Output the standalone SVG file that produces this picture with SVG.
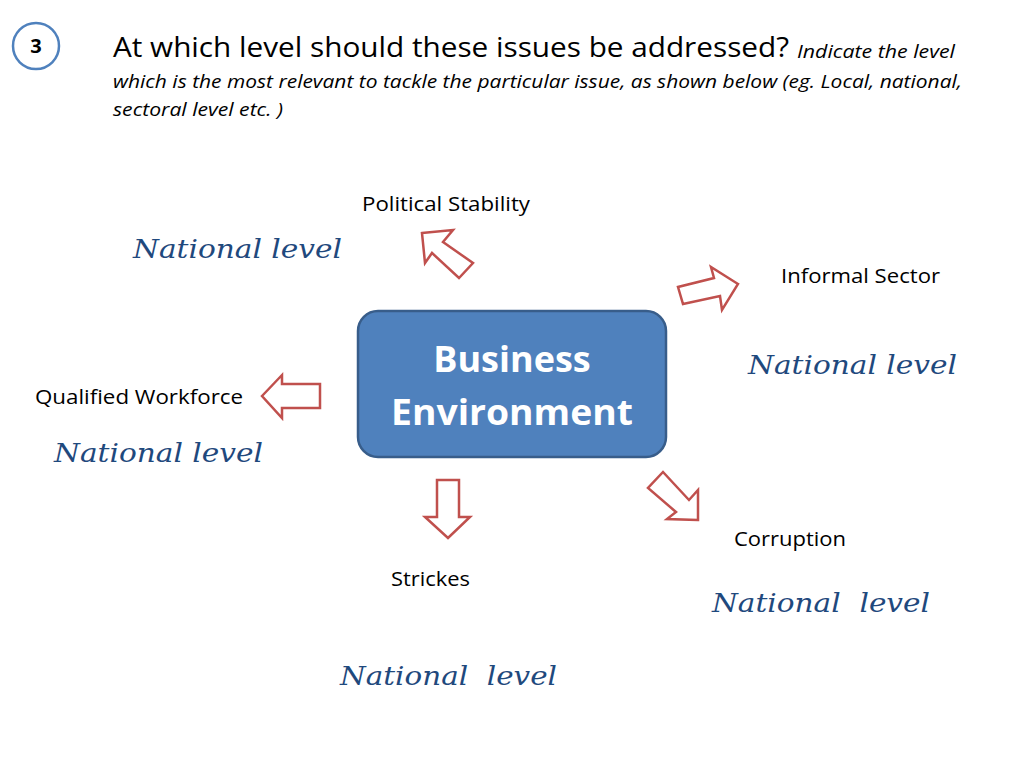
<svg xmlns="http://www.w3.org/2000/svg" width="1024" height="768" viewBox="0 0 1024 768">
<style>
.t{font-family:"Open Sans","Liberation Sans",sans-serif;fill:#000}
.lbl{font-size:20px}
.nl{font-family:"DejaVu Serif","Liberation Serif",serif;font-style:italic;font-size:26px;fill:#1f497d}
.arr{fill:#fff;stroke:#c0504d;stroke-width:2.5;stroke-linejoin:miter}
</style>
<rect width="1024" height="768" fill="#fff"/>
<g id="badge">
<circle cx="36" cy="46" r="23" fill="#fff" stroke="#4f81bd" stroke-width="2.5"/>
<text x="36" y="53" text-anchor="middle" class="t" font-size="20" font-weight="bold">3</text>
</g>
<g id="title">
<text x="113" y="57" class="t" font-size="28" textLength="676" lengthAdjust="spacingAndGlyphs">At which level should these issues be addressed?</text>
<text x="797" y="58" class="t" font-size="19" font-style="italic" textLength="158" lengthAdjust="spacingAndGlyphs">Indicate the level</text>
<text x="113" y="88" class="t" font-size="19" font-style="italic" textLength="849" lengthAdjust="spacingAndGlyphs">which is the most relevant to tackle the particular issue, as shown below (eg. Local, national,</text>
<text x="113" y="116" class="t" font-size="19" font-style="italic" textLength="170" lengthAdjust="spacingAndGlyphs">sectoral level etc. )</text>
</g>
<g id="center">
<rect x="358" y="311" width="308" height="146" rx="20" ry="20" fill="#4f81bd" stroke="#385d8a" stroke-width="2.5"/>
<text x="512" y="372" text-anchor="middle" class="t" font-size="36" font-weight="bold" fill="#fff" style="fill:#fff">Business</text>
<text x="512" y="425" text-anchor="middle" class="t" font-size="36" font-weight="bold" style="fill:#fff" textLength="242" lengthAdjust="spacingAndGlyphs">Environment</text>
</g>
<g id="connectors">
<polygon class="arr" points="422,233 453,230 443,242 473,263 459,278 432,253 425,263"/>
<polygon class="arr" points="738,284 711,267 714,278 678,287 683,304 720,296 722,310"/>
<polygon class="arr" points="262,396 282,375 282,384 320,384 320,408 282,408 282,418"/>
<polygon class="arr" points="437,480 459,480 459,517 470,517 448,538 425,517 437,517"/>
<polygon class="arr" points="698,520 667,519 676,512 648,488 663,472 689,500 698,490"/>
</g>
<g id="political">
<text x="362" y="211" class="t lbl" textLength="168" lengthAdjust="spacingAndGlyphs">Political Stability</text>
<text x="133" y="258" class="nl" textLength="209" lengthAdjust="spacingAndGlyphs">National level</text>
</g>
<g id="informal">
<text x="781" y="283" class="t lbl" textLength="159" lengthAdjust="spacingAndGlyphs">Informal Sector</text>
<text x="748" y="374" class="nl" textLength="209" lengthAdjust="spacingAndGlyphs">National level</text>
</g>
<g id="workforce">
<text x="35" y="404" class="t lbl" textLength="208" lengthAdjust="spacingAndGlyphs">Qualified Workforce</text>
<text x="54" y="462" class="nl" textLength="209" lengthAdjust="spacingAndGlyphs">National level</text>
</g>
<g id="corruption">
<text x="734" y="546" class="t lbl" textLength="112" lengthAdjust="spacingAndGlyphs">Corruption</text>
<text x="712" y="612" class="nl" textLength="218" lengthAdjust="spacingAndGlyphs" xml:space="preserve">National  level</text>
</g>
<g id="strikes">
<text x="391" y="586" class="t lbl" textLength="79" lengthAdjust="spacingAndGlyphs">Strickes</text>
<text x="340" y="685" class="nl" textLength="217" lengthAdjust="spacingAndGlyphs" xml:space="preserve">National  level</text>
</g>
</svg>
